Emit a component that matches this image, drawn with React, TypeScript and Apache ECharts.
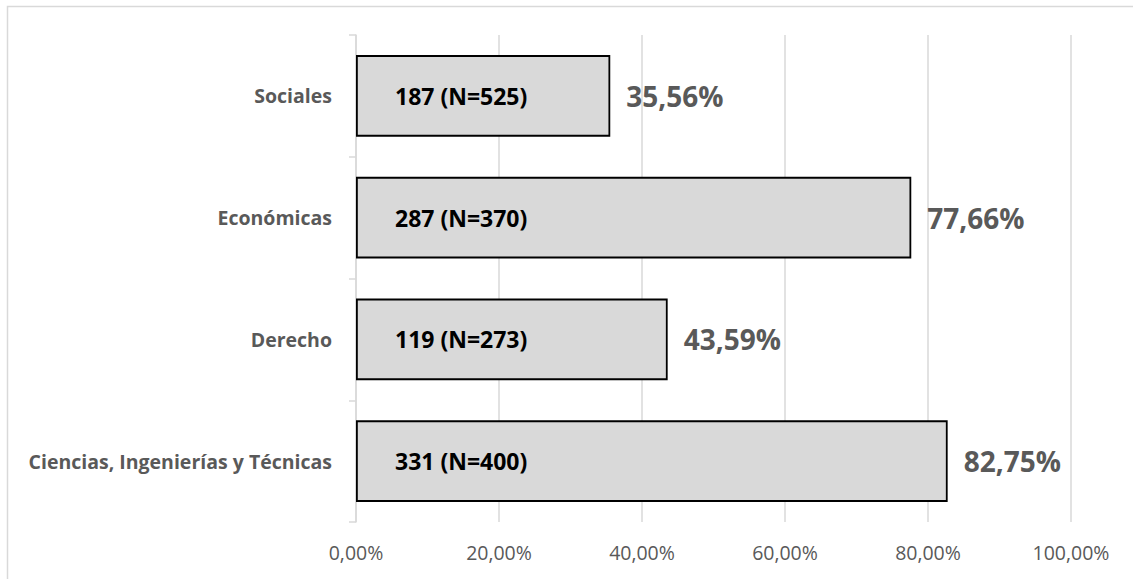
import React, { useEffect, useRef } from "react";
import * as echarts from "echarts";

// Faculties, listed bottom to top as drawn on the category axis
const categories = ["Ciencias, Ingenierías y Técnicas", "Derecho", "Económicas", "Sociales"];
const counts = [331, 119, 287, 187];
const totals = [400, 273, 370, 525];
const percents = [82.75, 43.59, 77.66, 35.56];
const xTicks = [0, 20, 40, 60, 80, 100];

const fmtPct = (v: number) => v.toFixed(2).replace(".", ",") + "%";

export default function App() {
  const ref = useRef<HTMLDivElement>(null);

  useEffect(() => {
    if (!ref.current) return;
    const chart = echarts.init(ref.current, undefined, { renderer: "svg" });
    const font = "'Open Sans', 'Noto Sans', sans-serif";
    chart.setOption({
      animation: false,
      backgroundColor: "#ffffff",
      graphic: [
        {
          type: "rect",
          shape: { x: 7.5, y: 6.5, width: 1140, height: 600 },
          style: { fill: "none", stroke: "#d9d9d9", lineWidth: 1.5 },
          silent: true,
        },
      ],
      grid: { left: 356, right: 62, top: 35, bottom: 57 },
      xAxis: {
        type: "value",
        min: xTicks[0],
        max: xTicks[xTicks.length - 1],
        interval: 20,
        axisLine: { show: false },
        axisTick: { show: false },
        splitLine: { show: true, lineStyle: { color: "#d9d9d9", width: 1.5 } },
        axisLabel: {
          formatter: (v: number) => fmtPct(v),
          color: "#595959",
          fontSize: 19.5,
          fontFamily: font,
          margin: 20,
        },
      },
      yAxis: {
        type: "category",
        data: categories,
        axisLine: { show: true, lineStyle: { color: "#d9d9d9", width: 1.5 } },
        axisTick: { show: true, length: 7, lineStyle: { color: "#d9d9d9", width: 1.5 } },
        axisLabel: {
          color: "#595959",
          fontSize: 19.5,
          fontWeight: "bold",
          fontFamily: font,
          margin: 24,
        },
      },
      series: [
        {
          type: "bar",
          data: percents,
          barCategoryGap: "33%",
          itemStyle: { color: "#d9d9d9", borderColor: "#000000", borderWidth: 1.8 },
          label: {
            show: true,
            position: "insideLeft",
            distance: 39,
            formatter: (p: any) => `${counts[p.dataIndex]} (N=${totals[p.dataIndex]})`,
            color: "#000000",
            fontSize: 23,
            fontWeight: "bold",
            fontFamily: font,
          },
          z: 2,
        },
        {
          type: "bar",
          data: percents,
          barGap: "-100%",
          barCategoryGap: "33%",
          itemStyle: { color: "rgba(0,0,0,0)", borderWidth: 0 },
          label: {
            show: true,
            position: "right",
            distance: 16,
            formatter: (p: any) => fmtPct(p.value),
            color: "#595959",
            fontSize: 28,
            fontWeight: "bold",
            fontFamily: font,
          },
          silent: true,
          z: 3,
        },
      ],
    });
    return () => chart.dispose();
  }, []);

  return (
    <div
      ref={ref}
      style={{ position: "fixed", left: 0, top: 0, width: 1133, height: 579 }}
    />
  );
}
